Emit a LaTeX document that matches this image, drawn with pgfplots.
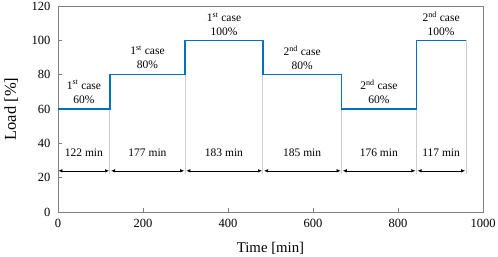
\documentclass[border=0pt]{standalone}
\usepackage{fontspec}
\setmainfont{Liberation Serif}
\usepackage{pgfplots}
\pgfplotsset{compat=1.18}
\usetikzlibrary{arrows.meta}
\definecolor{lineblue}{RGB}{0,112,192}
\definecolor{axgray}{RGB}{128,128,128}
\definecolor{vgray}{RGB}{205,205,205}
\begin{document}
\begin{tikzpicture}
\begin{axis}[
  width=425pt, height=206pt, scale only axis,
  xmin=0, xmax=1000, ymin=0, ymax=120,
  xtick={0,200,...,1000}, ytick={0,20,...,120},
  tick align=inside, xtick pos=bottom, ytick pos=left,
  major tick length=4pt,
  axis line style={axgray, line width=0.8pt},
  tick style={axgray, line width=0.6pt},
  ticklabel style={font=\fontsize{12.5}{14}\selectfont},
  xticklabel style={yshift=-4pt},
  yticklabel style={xshift=-4pt},
  /pgf/number format/assume math mode=true,
  /pgf/number format/1000 sep={},
  xlabel={Time [min]}, ylabel={Load [\%]},
  xlabel style={font=\fontsize{14.8}{16}\selectfont, at={(axis description cs:0.5,-0.175)}, anchor=center},
  ylabel style={font=\fontsize{16.5}{18}\selectfont, at={(axis description cs:-0.11,0.5)}, anchor=center},
  clip=false,
]
% gray vertical guide lines
\draw[vgray, line width=0.8pt] (axis cs:122,22) -- (axis cs:122,60);
\draw[vgray, line width=0.8pt] (axis cs:299,22) -- (axis cs:299,80);
\draw[vgray, line width=0.8pt] (axis cs:482,22) -- (axis cs:482,80);
\draw[vgray, line width=0.8pt] (axis cs:667,22) -- (axis cs:667,60);
\draw[vgray, line width=0.8pt] (axis cs:843,22) -- (axis cs:843,60);
\draw[vgray, line width=0.8pt] (axis cs:960,22) -- (axis cs:960,100);
% load profile
\addplot[lineblue, line width=1.5pt, const plot, mark=none] coordinates {
 (0,60) (122,80) (299,100) (482,80) (667,60) (843,100) (960,100)};
% duration arrows
\tikzset{dur/.style={black, line width=0.6pt, {Latex[length=4pt,width=3.5pt]}-{Latex[length=4pt,width=3.5pt]}}}
\draw[dur] (axis cs:1,24) -- (axis cs:120,24);
\draw[dur] (axis cs:125,24) -- (axis cs:297,24);
\draw[dur] (axis cs:302,24) -- (axis cs:480,24);
\draw[dur] (axis cs:485,24) -- (axis cs:665,24);
\draw[dur] (axis cs:670,24) -- (axis cs:841,24);
\draw[dur] (axis cs:846,24) -- (axis cs:958,24);
\tikzset{lab/.style={font=\fontsize{11.5}{14}\selectfont, align=center, inner sep=0pt}}
\node[lab] at (axis cs:61,34.5) {122 min};
\node[lab] at (axis cs:210.5,34.5) {177 min};
\node[lab] at (axis cs:390.5,34.5) {183 min};
\node[lab] at (axis cs:574.5,34.5) {185 min};
\node[lab] at (axis cs:755,34.5) {176 min};
\node[lab] at (axis cs:901.5,34.5) {117 min};
\node[lab] at (axis cs:61,70) {1\textsuperscript{st} case\\60\%};
\node[lab] at (axis cs:210.5,90) {1\textsuperscript{st} case\\80\%};
\node[lab] at (axis cs:390.5,109.5) {1\textsuperscript{st} case\\100\%};
\node[lab] at (axis cs:574.5,90) {2\textsuperscript{nd} case\\80\%};
\node[lab] at (axis cs:755,70) {2\textsuperscript{nd} case\\60\%};
\node[lab] at (axis cs:901.5,109.5) {2\textsuperscript{nd} case\\100\%};
\end{axis}
\pgfresetboundingbox
\path (-58pt,-45pt) rectangle (440pt,212pt);
\end{tikzpicture}
\end{document}
